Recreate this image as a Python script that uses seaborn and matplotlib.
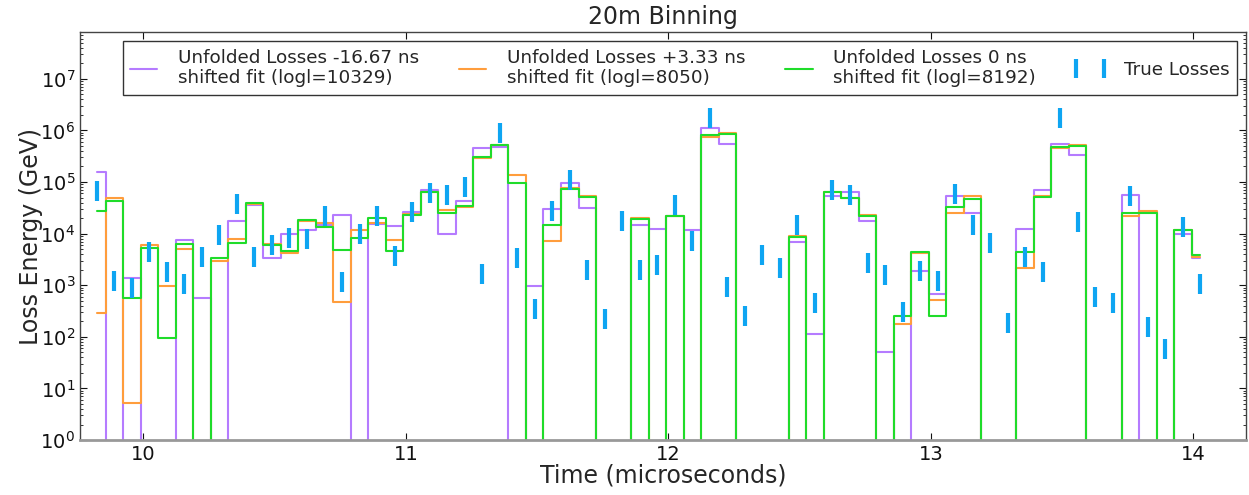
import numpy as np
import matplotlib
matplotlib.use("Agg")
import matplotlib.pyplot as plt
from matplotlib.collections import PathCollection
from matplotlib.legend_handler import HandlerPathCollection
import seaborn as sns

# Bin centres of the 20 m (≈66.7 ns) time binning, in microseconds
time_us = [
    9.8233, 9.8900, 9.9567, 10.0234, 10.0901, 10.1569, 10.2236, 10.2903,
    10.3570, 10.4237, 10.4904, 10.5571, 10.6238, 10.6905, 10.7572, 10.8240,
    10.8907, 10.9574, 11.0241, 11.0908, 11.1575, 11.2242, 11.2909, 11.3576,
    11.4243, 11.4911, 11.5578, 11.6245, 11.6912, 11.7579, 11.8246, 11.8913,
    11.9580, 12.0247, 12.0914, 12.1582, 12.2249, 12.2916, 12.3583, 12.4250,
    12.4917, 12.5584, 12.6251, 12.6918, 12.7585, 12.8253, 12.8920, 12.9587,
    13.0254, 13.0921, 13.1588, 13.2255, 13.2922, 13.3589, 13.4256, 13.4924,
    13.5591, 13.6258, 13.6925, 13.7592, 13.8259, 13.8926, 13.9593, 14.0260,
]

# Unfolded loss energies (GeV) per bin for each time shift of the fit
unfolded_minus_16p67 = [
    1.56e5, 0, 1.38e3, 0, 0, 7.6e3, 560, 0,
    1.78e4, 3.6e4, 3.4e3, 9.7e3, 1.2e4, 1.47e4, 2.33e4, 0,
    1.56e4, 1.4e4, 2.6e4, 6.9e4, 9.7e3, 4.3e4, 4.6e5, 4.8e5,
    0, 960, 3.0e4, 9.6e4, 3.2e4, 0, 0, 1.49e4,
    1.25e4, 2.2e4, 1.15e4, 1.1e6, 5.5e5, 0, 0, 0,
    6.8e3, 113, 5.3e4, 6.3e4, 1.78e4, 50, 0, 1.87e3,
    680, 5.3e4, 2.5e4, 0, 0, 1.23e4, 6.9e4, 5.5e5,
    3.4e5, 0, 0, 5.7e4, 0, 0, 9.7e3, 3.4e3,
]
unfolded_plus_3p33 = [
    290, 4.9e4, 5.3, 5.9e3, 980, 5.1e3, 0, 3.0e3,
    7.8e3, 3.8e4, 6.4e3, 4.3e3, 1.74e4, 1.58e4, 475, 1.2e4,
    1.6e4, 7.4e3, 2.45e4, 6.5e4, 2.9e4, 3.3e4, 2.9e5, 5.1e5,
    1.35e5, 0, 7.1e3, 7.5e4, 5.3e4, 0, 0, 2.04e4,
    0, 2.2e4, 0, 7.3e5, 9.1e5, 0, 0, 0,
    8.8e3, 0, 6.4e4, 5.0e4, 2.3e4, 0, 178, 4.3e3,
    520, 2.56e4, 5.3e4, 0, 0, 2.2e3, 5.4e4, 4.6e5,
    5.2e5, 0, 0, 2.2e4, 2.8e4, 0, 1.18e4, 3.6e3,
]
unfolded_zero = [
    2.8e4, 4.2e4, 570, 5.3e3, 93, 6.4e3, 0, 3.3e3,
    6.6e3, 4.0e4, 6.1e3, 4.6e3, 1.8e4, 1.34e4, 4.9e3, 8.2e3,
    2.04e4, 4.6e3, 2.3e4, 6.3e4, 2.5e4, 3.4e4, 3.1e5, 5.3e5,
    9.7e4, 0, 1.49e4, 7.2e4, 5.2e4, 0, 0, 1.9e4,
    0, 2.2e4, 0, 8.0e5, 8.6e5, 0, 0, 0,
    8.6e3, 0, 6.3e4, 4.8e4, 2.2e4, 0, 250, 4.4e3,
    255, 3.3e4, 4.7e4, 0, 0, 4.4e3, 5.2e4, 4.8e5,
    4.9e5, 0, 0, 2.56e4, 2.56e4, 0, 1.15e4, 3.9e3,
]

# True deposited losses (GeV)
true_losses = [
    6.8e4, 1.2e3, 890, 4.5e3, 1.8e3, 1.05e3, 3.5e3, 9.5e3,
    3.7e4, 3.6e3, 6.1e3, 8.2e3, 8.0e3, 2.2e4, 1.13e3, 1.0e4,
    2.2e4, 3.7e3, 2.6e4, 6.0e4, 5.7e4, 7.9e4, 1.66e3, 8.9e5,
    3.4e3, 344, 2.7e4, 1.1e5, 1.95e3, 222, 1.75e4, 1.95e3,
    2.46e3, 3.6e4, 7.1e3, 1.77e6, 930, 248, 3.9e3, 2.2e3,
    1.45e4, 460, 6.9e4, 5.7e4, 2.75e3, 1.56e3, 303, 1.9e3,
    1.23e3, 5.8e4, 1.45e4, 6.6e3, 182, 3.6e3, 1.78e3, 1.77e6,
    1.66e4, 600, 450, 5.3e4, 158, 58, 1.35e4, 1.05e3,
]

series_labels = [
    "Unfolded Losses -16.67 ns\nshifted fit (logl=10329)",
    "Unfolded Losses +3.33 ns\nshifted fit (logl=8050)",
    "Unfolded Losses 0 ns\nshifted fit (logl=8192)",
]
series_colors = ["#b57bff", "#ff9d3c", "#1fdc2a"]
true_color = "#0ea5f2"

sns.set_theme(style="ticks")
plt.rcParams["font.family"] = ["DejaVu Sans"]

fig = plt.figure(figsize=(12.49, 4.95), dpi=100)
ax = fig.add_axes([0.064, 0.111, 0.9336, 0.824])

for values, label, color in zip(
    [unfolded_minus_16p67, unfolded_plus_3p33, unfolded_zero],
    series_labels, series_colors,
):
    sns.lineplot(x=time_us, y=values, drawstyle="steps-mid", color=color,
                 linewidth=1.5, label=label, estimator=None, sort=False,
                 ax=ax)

sns.scatterplot(x=time_us, y=true_losses, marker="|", s=190, linewidth=3.0,
                color=true_color, label="True Losses", ax=ax, zorder=5)

ax.set_yscale("log")
ax.set_ylim(1, 8e7)
ax.set_xlim(9.759, 14.2)
ax.set_xticks([10, 11, 12, 13, 14])

ax.set_title("20m Binning", fontsize=17)
ax.set_xlabel("Time (microseconds)", fontsize=17, labelpad=0)
ax.set_ylabel("Loss Energy (GeV)", fontsize=17, labelpad=-2)

ax.tick_params(which="both", direction="in", top=True, right=True,
               labelsize=14, colors="#111111")
ax.tick_params(which="major", length=5, width=0.8)
ax.tick_params(which="minor", length=2.5, width=0.6)
for side in ["left", "right", "top"]:
    ax.spines[side].set_color("#444444")
    ax.spines[side].set_linewidth(1.0)
ax.spines["bottom"].set_color("#999999")
ax.spines["bottom"].set_linewidth(2.0)

handles, labels = ax.get_legend_handles_labels()
ax.legend(handles, labels, ncol=4, loc="upper right", fontsize=13.2,
          frameon=True, fancybox=False, edgecolor="#333333", framealpha=1,
          scatterpoints=2, scatteryoffsets=[0.5], handlelength=1.5,
          handletextpad=1.1, columnspacing=2.2, borderaxespad=0.5,
          handler_map={PathCollection: HandlerPathCollection(marker_pad=0.0)})

fig.savefig("out.png", dpi=100)
